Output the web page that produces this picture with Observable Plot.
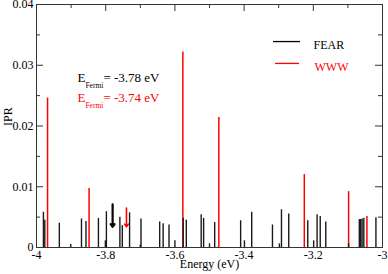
<!DOCTYPE html>
<html>
<head>
<meta charset="utf-8">
<script src="https://cdn.jsdelivr.net/npm/d3@7"></script>
<script src="https://cdn.jsdelivr.net/npm/@observablehq/plot@0.6"></script>
<style>
  html, body { margin: 0; padding: 0; background: #fff; }
  #chart { width: 388px; height: 274px; }
  #chart svg, #chart svg text { font-family: "Liberation Serif", "DejaVu Serif", serif !important; }
</style>
</head>
<body>
<div id="chart"></div>
<script>
// FEAR spectrum (black spikes)
const fearE = [-3.980, -3.976, -3.934, -3.901, -3.870, -3.857, -3.821, -3.801, -3.798, -3.759,
  -3.752, -3.731, -3.700, -3.698, -3.644, -3.634, -3.617, -3.600, -3.576, -3.567,
  -3.524, -3.517, -3.500, -3.485, -3.410, -3.399, -3.378, -3.318, -3.298, -3.292,
  -3.271, -3.216, -3.199, -3.189, -3.180, -3.164, -3.098, -3.067, -3.063, -3.059,
  -3.054, -3.019];
const fearIPR = [0.0058, 0.0045, 0.0040, 0.0005, 0.0047, 0.0043, 0.0048, 0.0011, 0.0059, 0.0050,
  0.0036, 0.0057, 0.0004, 0.0047, 0.0042, 0.0039, 0.0037, 0.0011, 0.0048, 0.0045,
  0.0054, 0.0048, 0.0006, 0.0041, 0.0044, 0.0011, 0.0058, 0.0037, 0.0006, 0.0062,
  0.0055, 0.0044, 0.0011, 0.0054, 0.0051, 0.0042, 0.0006, 0.0046, 0.0046, 0.0047,
  0.0048, 0.0049];
// WWW spectrum (red spikes)
const wwwE = [-3.968, -3.848, -3.577, -3.473, -3.226, -3.098, -3.045];
const wwwIPR = [0.0246, 0.0097, 0.0322, 0.0214, 0.0120, 0.0092, 0.0051];

// Fermi energies (arrows)
const fermiE = [-3.78, -3.74];
const fermiTop = [0.0071, 0.0065];
const fermiTip = [0.0034, 0.0034];
const fermiLabels = ["EFermi= -3.78 eV", "EFermi= -3.74 eV"];
const seriesNames = ["FEAR", "WWW"];
const seriesColors = ["#000000", "#ff0000"];

const xTicks = [-4, -3.8, -3.6, -3.4, -3.2, -3];
const xMinor = [-3.9, -3.7, -3.5, -3.3, -3.1];
const xTopMajor = [-3.8, -3.6, -3.4, -3.2];
const yTicks = [0, 0.01, 0.02, 0.03, 0.04];
const yMinor = [0.005, 0.015, 0.025, 0.035];

const W = 388, H = 274;
const mL = 36, mR = 6, mT = 4, mB = 27;
const pW = W - mL - mR, pH = H - mT - mB;

const fear = fearE.map((e, i) => ({e, v: fearIPR[i]}));
const www = wwwE.map((e, i) => ({e, v: wwwIPR[i]}));
const arrows = fermiE.map((e, i) => ({e, top: fermiTop[i], tip: fermiTip[i], c: seriesColors[i], w: i === 0 ? 2.2 : 1.6}));

const legendY = [0.0339, 0.0303];
const serif = "'Liberation Serif', 'DejaVu Serif', serif";

const plot = Plot.plot({
  width: W, height: H,
  marginLeft: mL, marginRight: mR, marginTop: mT, marginBottom: mB,
  style: {fontFamily: serif, fontSize: "12px", background: "#fff", color: "#000"},
  x: {domain: [-4, -3], axis: null},
  y: {domain: [0, 0.04], axis: null},
  marks: [
    Plot.ruleX(www, {x: "e", y1: 0, y2: "v", stroke: seriesColors[1], strokeWidth: 1.5}),
    Plot.ruleX(fear, {x: "e", y1: 0, y2: "v", stroke: "#1a1a1a", strokeWidth: 1.4}),
    // frame and ticks (inward)
    Plot.frame({stroke: "#333", strokeWidth: 1}),
    Plot.ruleY(yTicks, {stroke: "#333", insetRight: pW - 7}),
    Plot.ruleY(yMinor, {stroke: "#333", insetRight: pW - 4}),
    Plot.ruleY(yTicks, {stroke: "#333", insetLeft: pW - 7}),
    Plot.ruleY(yMinor, {stroke: "#333", insetLeft: pW - 4}),
    Plot.ruleX(xTopMajor, {stroke: "#333", insetBottom: pH - 7}),
    Plot.ruleX(xMinor, {stroke: "#333", insetBottom: pH - 4}),
    Plot.axisX({ticks: xTicks, tickSize: 0, tickPadding: 3, tickFormat: d => String(d), label: null, fontSize: 12}),
    Plot.axisY({ticks: yTicks, tickSize: 0, tickPadding: 3, tickFormat: d => String(d), label: null, fontSize: 12}),
    // axis titles
    Plot.text(["Energy (eV)"], {frameAnchor: "bottom", dy: 20, text: d => d, fontSize: 12, fill: "#000"}),
    Plot.text(["IPR"], {frameAnchor: "left", dx: -28, rotate: -90, text: d => d, fontSize: 12, fill: "#000"}),
    // Fermi arrows
    Plot.arrow(arrows, {x1: "e", x2: "e", y1: "top", y2: "tip", stroke: "c", strokeWidth: "w", headLength: 5, headAngle: 70}),
    // Fermi labels
    Plot.text([fermiLabels[0]], {frameAnchor: "top-left", dx: 41, dy: 68, textAnchor: "start", text: d => d, fill: seriesColors[0], fontSize: 13}),
    Plot.text([fermiLabels[1]], {frameAnchor: "top-left", dx: 41, dy: 88, textAnchor: "start", text: d => d, fill: seriesColors[1], fontSize: 13}),
    // legend
    Plot.ruleY([legendY[0]], {y: d => d, stroke: seriesColors[0], strokeWidth: 1.3, insetLeft: 237, insetRight: 82}),
    Plot.ruleY([legendY[1]], {y: d => d, stroke: seriesColors[1], strokeWidth: 1.3, insetLeft: 239, insetRight: 83}),
    Plot.text([seriesNames[0]], {frameAnchor: "top-left", dx: 277, dy: 36, textAnchor: "start", text: d => d, fill: seriesColors[0], fontSize: 12}),
    Plot.text([seriesNames[1]], {frameAnchor: "top-left", dx: 278, dy: 58, textAnchor: "start", text: d => d, fill: seriesColors[1], fontSize: 12})
  ]
});

// Subscript "Fermi" in the Fermi labels
plot.querySelectorAll("text").forEach(t => {
  const s = t.textContent;
  if (s.startsWith("EFermi")) {
    const rest = s.slice(6);
    t.textContent = "";
    const ns = "http://www.w3.org/2000/svg";
    t.appendChild(document.createTextNode("E"));
    const sub = document.createElementNS(ns, "tspan");
    sub.setAttribute("font-size", "7.5");
    sub.setAttribute("dy", "6");
    sub.textContent = "Fermi";
    t.appendChild(sub);
    const tail = document.createElementNS(ns, "tspan");
    tail.setAttribute("dy", "-6");
    tail.textContent = rest;
    t.appendChild(tail);
  }
});

document.getElementById("chart").appendChild(plot);
</script>
</body>
</html>
